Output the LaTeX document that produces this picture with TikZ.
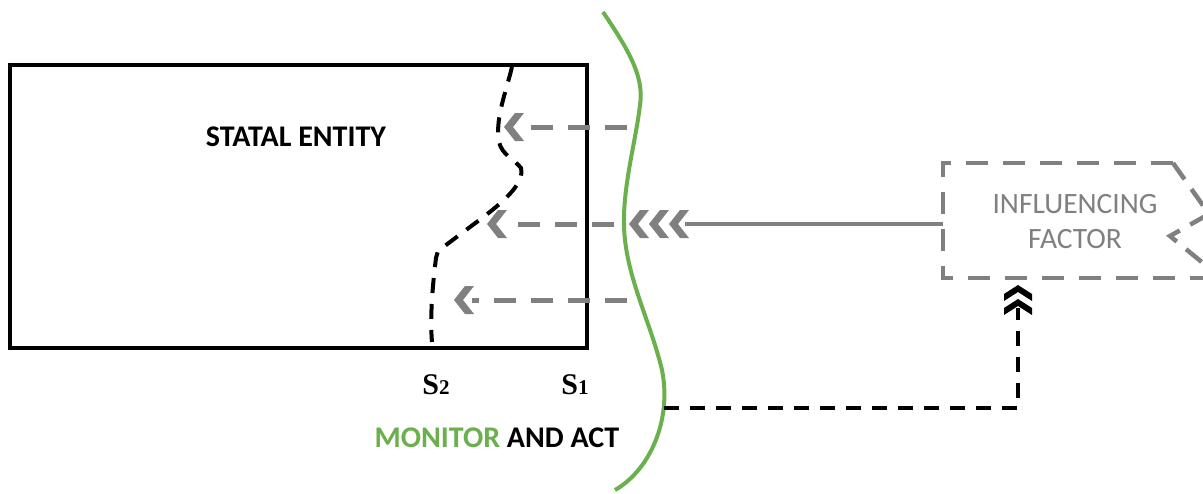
\documentclass[tikz,border=0pt]{standalone}
\usepackage{fontspec}
\setmainfont{Carlito}
\newfontfamily\serifb{Liberation Serif}
\definecolor{lgreen}{HTML}{6AB04C}
\definecolor{mgray}{HTML}{808080}
\begin{document}
\begin{tikzpicture}[x=1pt,y=-1pt,
  box/.style={draw=black,line width=4pt},
  txt/.style={font=\fontsize{29.5}{35}\selectfont,inner sep=0pt,align=center},
  gdash/.style={draw=mgray,line width=5pt,dash pattern=on 22pt off 15pt},
  bdash/.style={draw=black,line width=4pt,dash pattern=on 15pt off 11pt},
  chevL/.pic={\fill[mgray] (0,0) -- (11,-14) -- (20,-14) -- (9,0) -- (20,14) -- (11,14) -- cycle;},
  chevU/.pic={\fill[black] (0,0) -- (14,9) -- (14,16) -- (0,7) -- (-14,16) -- (-14,9) -- cycle;}
]
\useasboundingbox (0,0) rectangle (1203,493);
\fill[white] (0,0) rectangle (1203,493);
% statal entity
\draw[box] (10,65) rectangle (587,348);
\node[txt,font=\fontsize{30}{35}\selectfont\bfseries] (stat) at (296,137) {STATAL ENTITY};
% S2 boundary
\draw[bdash] (512,67) .. controls (505,95) and (495,120) .. (499,142)
  .. controls (502,155) and (515,160) .. (521,168)
  .. controls (525,185) and (500,205) .. (470,227) -- (438,251) -- (436,258)
  .. controls (432,290) and (430,320) .. (432,342);
% labels S
\node[inner sep=0pt,font=\serifb\bfseries\fontsize{30}{32}\selectfont] (s2) at (436,385) {S{\fontsize{21}{22}\selectfont 2}};
\node[inner sep=0pt,font=\serifb\bfseries\fontsize{30}{32}\selectfont] (s1) at (575,385) {S{\fontsize{21}{22}\selectfont 1}};
% green curve
\draw[lgreen,line width=4pt] (603,12) .. controls (625,45) and (645,75) .. (640,105)
  .. controls (636,140) and (623,185) .. (624,225)
  .. controls (625,275) and (650,320) .. (662,370)
  .. controls (672,420) and (650,470) .. (615,490);
\node[txt,font=\fontsize{30}{35}\selectfont\bfseries,anchor=center] (mon) at (497,438) {\textcolor{lgreen}{MONITOR} AND ACT};
% influencing factor box
\begin{scope}
\clip (0,0) rectangle (1203,493);
\draw[gdash,line width=4.5pt] (1173,163) -- (943,163) -- (943,278) -- (1210,278);
\draw[gdash,line width=4.5pt,dash pattern=on 20pt off 12pt] (1173,163) -- (1209,214) -- (1170,236) -- (1209,268);
\end{scope}
\node[txt,text=mgray] (infl) at (1075,222) {INFLUENCING\\FACTOR};
\coordinate (inL) at (943,224);
% gray arrows
\coordinate (a1s) at (627,127); \coordinate (a1e) at (523,127);
\coordinate (a2s) at (614,224); \coordinate (a2e) at (505,224);
\coordinate (a3s) at (627,300); \coordinate (a3e) at (472,300);
\draw[gdash] (a1s) -- (a1e);
\draw[gdash] (a2s) -- (a2e);
\draw[gdash] (a3s) -- (a3e);
\pic at (504,127) {chevL};
\pic at (487,224) {chevL};
\pic at (454,300) {chevL};
% solid gray with triple chevron
\coordinate (tripend) at (685,224);
\draw[mgray,line width=4pt] (inL) -- (tripend);
\pic at (629,224) {chevL};
\pic at (649,224) {chevL};
\pic at (669,224) {chevL};
% black connector
\coordinate (bstart) at (664,408);
\coordinate (bcorner) at (1018,408);
\coordinate (bend) at (1018,308);
\draw[bdash] (bstart) -- (bcorner) -- (bend);
\pic at (1018,285) {chevU};
\pic at (1018,299) {chevU};
\end{tikzpicture}
\end{document}
